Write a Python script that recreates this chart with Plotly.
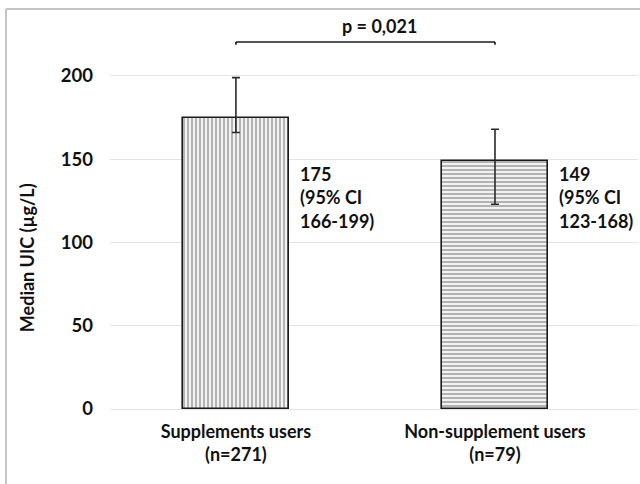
import plotly.graph_objects as go

# ---- data ----
categories = ["Supplements users", "Non-supplement users"]
sample_sizes = ["(n=271)", "(n=79)"]
medians = [175, 149]
ci_low = [166, 123]
ci_high = [199, 168]
p_value_text = "p = 0,021"
y_ticks = [0, 50, 100, 150, 200]
y_title = "Median UIC (µg/L)"

FONT = "Lato"
FS = 18
x_pos = list(range(len(categories)))

fig = go.Figure()
patterns = ["|", "-"]
for i in x_pos:
    fig.add_trace(go.Bar(
        x=[i], y=[medians[i]], width=0.41,
        marker=dict(
            color="white",
            line=dict(color="#1a1a1a", width=1.6),
            pattern=dict(shape=patterns[i], fgcolor="#555555", bgcolor="#f2f2f2",
                         size=4, solidity=0.4),
        ),
        error_y=dict(type="data", symmetric=False,
                     array=[ci_high[i] - medians[i]],
                     arrayminus=[medians[i] - ci_low[i]],
                     color="#2a2a2a", thickness=1.6, width=4),
        showlegend=False, hoverinfo="skip",
    ))

# value / CI labels
for i in x_pos:
    lines = [f"{medians[i]}", "(95% CI", f"{ci_low[i]}-{ci_high[i]})"]
    for j, t in enumerate(lines):
        fig.add_annotation(x=i + 0.24, y=127.3, xref="x", yref="y", text=f"<b>{t}</b>",
                           showarrow=False, xanchor="left", yanchor="middle",
                           yshift=(1 - j) * 23.5,
                           font=dict(family=FONT, size=FS, color="#111"))

# significance bracket
p_y = 220.4
fig.add_shape(type="line", x0=0, x1=1, y0=p_y, y1=p_y, xref="x", yref="y",
              line=dict(color="#1a1a1a", width=1.6))
for xx in (0, 1):
    fig.add_shape(type="line", x0=xx, x1=xx, y0=p_y, y1=p_y - 1.6, xref="x", yref="y",
                  line=dict(color="#1a1a1a", width=1.6))
fig.add_annotation(x=0.556, y=p_y, xref="x", yref="y", text=f"<b>{p_value_text}</b>",
                   showarrow=False, xanchor="center", yanchor="middle", yshift=16,
                   font=dict(family=FONT, size=FS, color="#111"))

# y-axis title
fig.add_annotation(x=-0.157, y=0.388, xref="paper", yref="paper", text=f"<b>{y_title}</b>",
                   textangle=-90, showarrow=False, xanchor="center", yanchor="middle",
                   font=dict(family=FONT, size=18, color="#111"))

# outer frame (left and top edges)
fx, fy = -0.197, 1.028
fig.add_shape(type="line", xref="paper", yref="paper", x0=fx, x1=fx, y0=-0.3, y1=fy,
              line=dict(color="#c4c4c4", width=2))
fig.add_shape(type="line", xref="paper", yref="paper", x0=fx, x1=1.2, y0=fy, y1=fy,
              line=dict(color="#c4c4c4", width=2))

fig.update_layout(
    width=640, height=484,
    margin=dict(l=110, r=2, t=20, b=75),
    paper_bgcolor="white", plot_bgcolor="white",
    bargap=0,
    xaxis=dict(range=[-0.486, 1.552], tickvals=x_pos,
               ticktext=[f"<b>{c}</b><br><b>{n}</b>" for c, n in zip(categories, sample_sizes)],
               showgrid=False, zeroline=False, showline=False, ticks="",
               ticklabelstandoff=10,
               tickfont=dict(family=FONT, size=FS, color="#111")),
    yaxis=dict(range=[0, 233.6], tickvals=y_ticks,
               ticktext=[f"<b>{v}</b>" for v in y_ticks],
               showgrid=True, gridcolor="#e4e4e4", gridwidth=1,
               zeroline=True, zerolinecolor="#e4e4e4", zerolinewidth=1,
               showline=False, ticks="", ticklabelstandoff=16,
               tickfont=dict(family=FONT, size=18.5, color="#111")),
)

fig.write_html("out.html", config={"displayModeBar": False},
               post_script="document.body.style.margin='0';document.body.style.overflow='hidden';")
